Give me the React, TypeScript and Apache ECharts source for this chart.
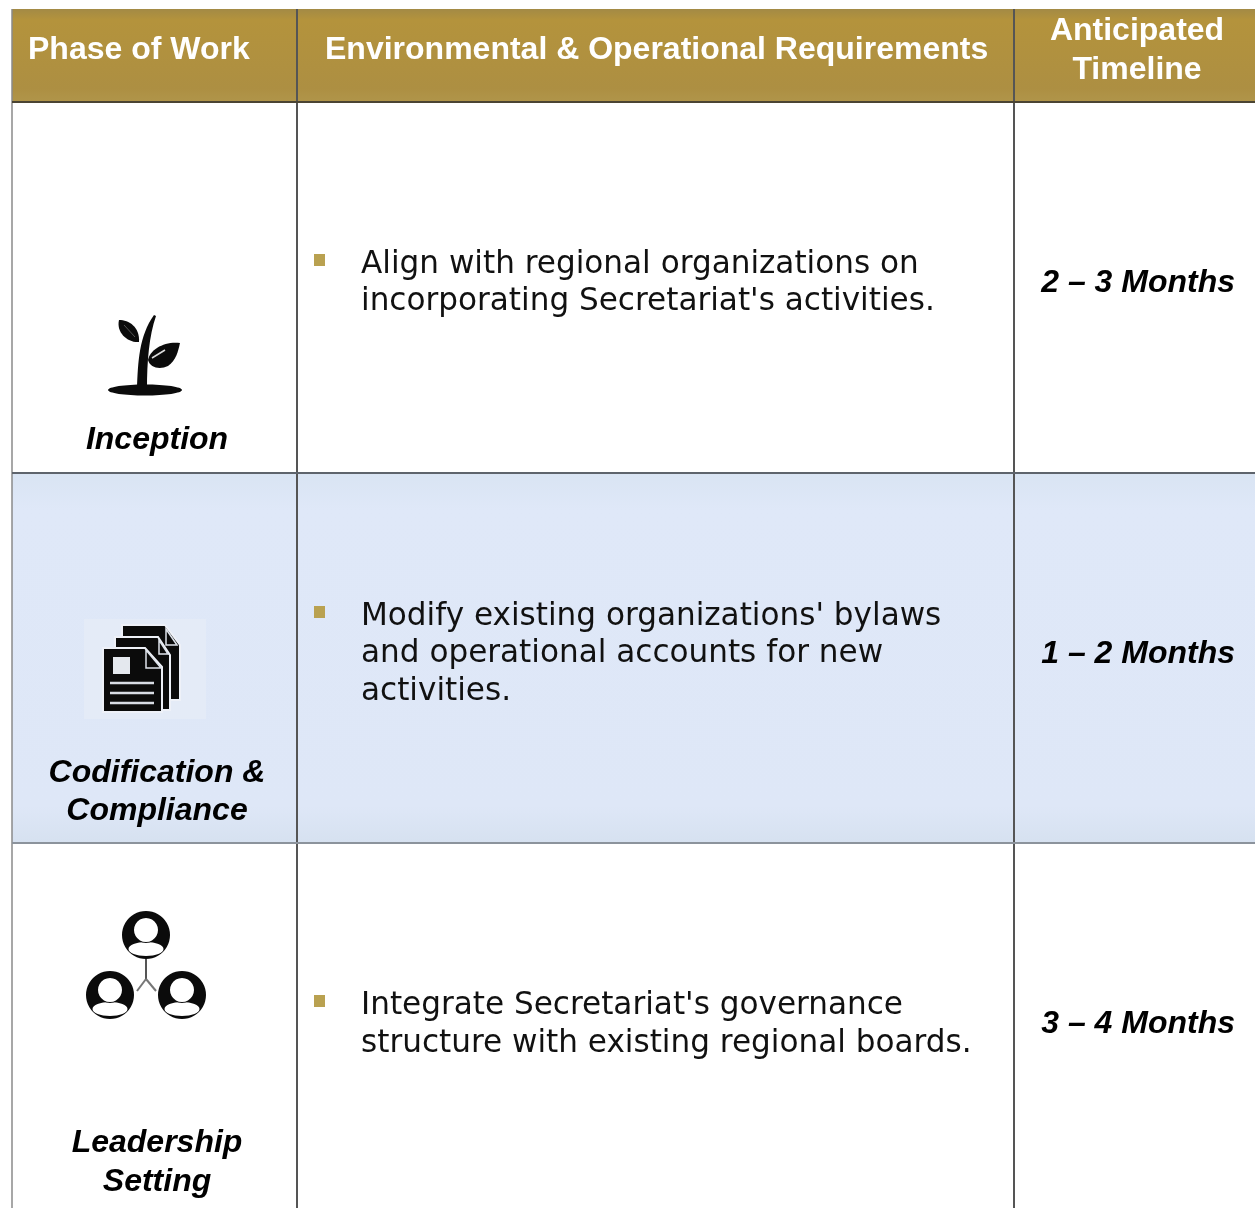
import React, { useEffect, useRef } from "react";
import * as echarts from "echarts";

const headers = ["Phase of Work", "Environmental & Operational Requirements", "Anticipated\nTimeline"];
const phases = ["Inception", "Codification &\nCompliance", "Leadership\nSetting"];
const requirements = [
  "Align with regional organizations on\nincorporating Secretariat's activities.",
  "Modify existing organizations' bylaws\nand operational accounts for new\nactivities.",
  "Integrate Secretariat's governance\nstructure with existing regional boards.",
];
const timelines = ["2 – 3 Months", "1 – 2 Months", "3 – 4 Months"];

const X = [12, 297, 1014, 1255];
const Y = [9, 102, 473, 843, 1208];
const phaseY = [438, 790, 1160.5];
const reqY = [280.5, 651, 1022];
const bulletY = [254, 606, 995];
const timeY = [281, 652, 1022];

const reg = (name: string, d: string) =>
  echarts.graphic.registerShape(name, echarts.graphic.extendPath(d, {}) as any);

reg("stem", "M137 389C138 362 139 336 154 315L156 316C149 336 147 362 147 389Z");
reg("leafL", "M119 320C129 320 140 327 139 342C128 343 116 333 119 320Z");
reg("leafR", "M180 343C165 341 150 349 148 360C150 368 160 370 168 366C176 360 178 352 180 343Z");
reg("pageA", "M122 625H165L180 645V700H122Z");
reg("pageB", "M115 637H158L170 655V710H115Z");
reg("pageC", "M103 648H145L162 667V712H103Z");
reg("foldA", "M166 629L177 645H166Z");
reg("foldB", "M159 640L168 654H159Z");
reg("foldC", "M146 650V668H161Z");

function person(cx: number, cy: number) {
  return [
    { type: "circle", shape: { cx, cy, r: 24 }, style: { fill: "#0b0b0b" } },
    { type: "ellipse", shape: { cx, cy: cy + 14, rx: 17.5, ry: 7 }, style: { fill: "#fff" } },
    { type: "circle", shape: { cx, cy: cy - 5, r: 13 }, style: { fill: "#0b0b0b" } },
    { type: "circle", shape: { cx, cy: cy - 5, r: 12 }, style: { fill: "#fff" } },
  ];
}

function buildGraphics() {
  const els: any[] = [];
  const line = (x1: number, y1: number, x2: number, y2: number, stroke: string, lineWidth = 2) =>
    els.push({ type: "line", shape: { x1, y1, x2, y2 }, style: { stroke, lineWidth } });

  // header band
  els.push({
    type: "rect",
    shape: { x: X[0], y: Y[0], width: X[3] - X[0], height: Y[1] - Y[0] },
    style: {
      fill: {
        type: "linear", x: 0, y: 0, x2: 0, y2: 1,
        colorStops: [
          { offset: 0, color: "#a38a45" },
          { offset: 0.12, color: "#b4933c" },
          { offset: 0.85, color: "#ad8f42" },
          { offset: 1, color: "#b0954a" },
        ],
      },
    },
  });
  // blue row
  els.push({
    type: "rect",
    shape: { x: X[0], y: Y[2], width: X[3] - X[0], height: Y[3] - Y[2] },
    style: {
      fill: {
        type: "linear", x: 0, y: 0, x2: 0, y2: 1,
        colorStops: [
          { offset: 0, color: "#d9e4f3" },
          { offset: 0.1, color: "#dfe8f8" },
          { offset: 0.9, color: "#deE7f7" },
          { offset: 1, color: "#d6e1f0" },
        ],
      },
    },
  });
  els.push({ type: "rect", shape: { x: 84, y: 619, width: 122, height: 100 }, style: { fill: "#e4ebf7" } });

  // grid lines
  line(X[0], Y[0], X[0], Y[4], "#8a8a8a", 1.5);
  line(X[1], Y[0], X[1], Y[4], "#555555");
  line(X[2], Y[0], X[2], Y[4], "#555555");
  line(X[0], Y[1], X[3], Y[1], "#4a4433");
  line(X[0], Y[2], X[3], Y[2], "#5e646c");
  line(X[0], Y[3], X[3], Y[3], "#8c939c");

  // header text
  const headStyle = { fill: "#fff", fontFamily: "Liberation Sans", fontWeight: "bold", fontSize: 32 };
  els.push({ type: "text", x: 28, y: 48, style: { ...headStyle, text: headers[0], verticalAlign: "middle" } });
  els.push({ type: "text", x: 325, y: 48, style: { ...headStyle, text: headers[1], verticalAlign: "middle" } });
  els.push({
    type: "text", x: 1137, y: 48.5,
    style: { ...headStyle, text: headers[2], align: "center", verticalAlign: "middle", lineHeight: 39 },
  });

  // rows
  phases.forEach((p, i) => {
    els.push({
      type: "text", x: 157, y: phaseY[i],
      style: {
        text: p, fill: "#000", fontFamily: "Liberation Sans", fontWeight: "bold", fontStyle: "italic",
        fontSize: 32, align: "center", verticalAlign: "middle", lineHeight: 38.5,
      },
    });
    els.push({ type: "rect", shape: { x: 314, y: bulletY[i], width: 11, height: 12 }, style: { fill: "#b9a150" } });
    els.push({
      type: "text", x: 361, y: reqY[i],
      style: {
        text: requirements[i], fill: "#111", fontFamily: "DejaVu Sans", fontSize: 31.1,
        verticalAlign: "middle", lineHeight: 37.5,
      },
    });
    els.push({
      type: "text", x: 1235, y: timeY[i],
      style: {
        text: timelines[i], fill: "#000", fontFamily: "Liberation Sans", fontWeight: "bold", fontStyle: "italic",
        fontSize: 32, align: "right", verticalAlign: "middle",
      },
    });
  });

  // sprout icon
  const k = { fill: "#0b0b0b" };
  els.push({ type: "ellipse", shape: { cx: 145, cy: 390, rx: 37, ry: 5.5 }, style: k });
  els.push({ type: "stem", x: 0, y: 0, style: k });
  els.push({ type: "leafL", x: 0, y: 0, style: k });
  els.push({ type: "leafR", x: 0, y: 0, style: k });
  line(152, 358, 165, 350, "#dddddd", 1.5);
  line(124, 325, 135, 337, "#555555", 1);

  // documents icon
  const page = { fill: "#0b0b0b", stroke: "#eef1f8", lineWidth: 2 };
  els.push({ type: "pageA", x: 0, y: 0, style: page });
  els.push({ type: "pageB", x: 0, y: 0, style: page });
  els.push({ type: "pageC", x: 0, y: 0, style: page });
  const fold = { fill: "#0b0b0b", stroke: "#dfe4ec", lineWidth: 1.5 };
  els.push({ type: "foldA", x: 0, y: 0, style: fold });
  els.push({ type: "foldB", x: 0, y: 0, style: fold });
  els.push({ type: "foldC", x: 0, y: 0, style: fold });
  els.push({ type: "rect", shape: { x: 113, y: 657, width: 17, height: 17 }, style: { fill: "#e4e8ee" } });
  [683, 693, 703].forEach((y) => line(110, y, 154, y, "#d8dce4", 2.5));

  // people icon
  line(146, 955, 146, 979, "#555555", 2);
  line(146, 979, 137, 991, "#777777", 2);
  line(146, 979, 156, 991, "#777777", 2);
  els.push(...person(146, 935), ...person(110, 995), ...person(182, 995));
  return els;
}

export default function App() {
  const ref = useRef<HTMLDivElement>(null);
  useEffect(() => {
    document.body.style.margin = "0";
    const chart = echarts.init(ref.current!, undefined, { renderer: "svg" });
    chart.setOption({ animation: false, backgroundColor: "#ffffff", graphic: { elements: buildGraphics() } });
    return () => chart.dispose();
  }, []);
  return <div ref={ref} style={{ width: 1255, height: 1208, filter: "blur(0.5px)" }} />;
}
